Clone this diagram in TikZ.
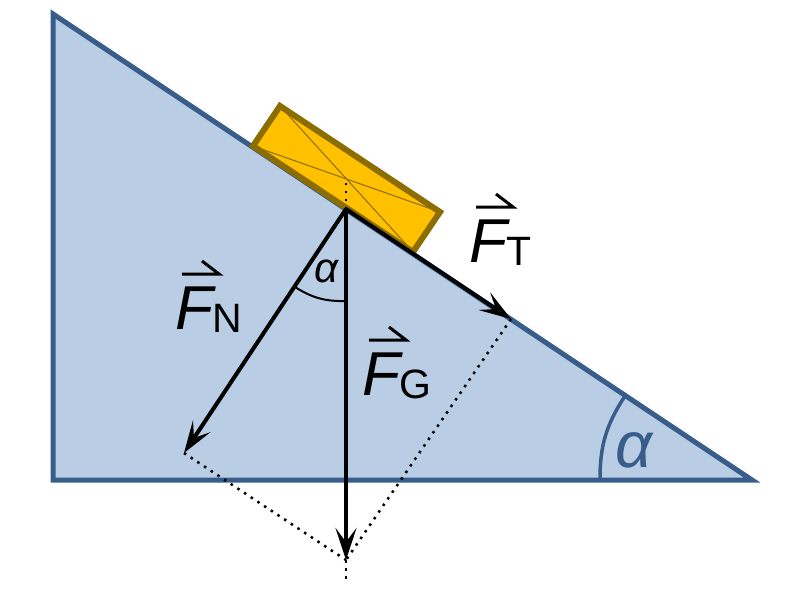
\documentclass[tikz,border=0pt]{standalone}
\usepackage{fontspec}
\setmainfont{Liberation Sans}
\usetikzlibrary{arrows.meta}
\definecolor{wedgefill}{HTML}{B9CDE5}
\definecolor{wedgeline}{HTML}{385D8A}
\definecolor{blockfill}{HTML}{FFC000}
\definecolor{blockline}{HTML}{8C6D00}
\newcommand{\forcetext}[1]{{\itshape F}{\hspace{-1pt}\fontsize{41}{41}\selectfont\raisebox{-3pt}{#1}}}
\tikzset{
    force/.style={line width=4pt, -{Stealth[length=32pt, width=21pt, inset=14pt]}},
    helper/.style={line width=2.5pt, dash pattern=on 2.5pt off 5.5pt},
    harpoon/.style={line width=3pt},
    forcelabel/.style={anchor=base west, inner sep=0pt, font=\fontsize{62}{62}\selectfont}
}
\begin{document}
\begin{tikzpicture}[x=1pt, y=-1pt]
    \useasboundingbox (0, 0) rectangle (800, 600);
    \coordinate (A) at (53, 14);
    \coordinate (B) at (53, 480);
    \coordinate (C) at (752, 480);
    \coordinate (P) at (346, 209);
    \coordinate (M) at (346, 179);
    \coordinate (T) at (511, 319);
    \coordinate (N) at (184, 453);
    \coordinate (G) at (346, 560);
    \coordinate (E) at (346, 582);
    \coordinate (K1) at (253, 146);
    \coordinate (K2) at (280, 106);
    \coordinate (K3) at (440, 212);
    \coordinate (K4) at (413, 252);
    \coordinate (R1) at (346, 301);
    \coordinate (R2) at (295, 287);
    \coordinate (S1) at (600, 480);
    \coordinate (S2) at (625, 396);
    % wedge
    \draw[line width=5pt, color=wedgeline, fill=wedgefill] (A) -- (B) -- (C) -- cycle;
    \draw[line width=3.5pt, color=wedgeline] (S1) to[bend left=16.8] (S2);
    % block
    \draw[line width=6pt, color=blockline, fill=blockfill] (K1) -- (K2) -- (K3) -- (K4) -- cycle;
    \draw[line width=1pt, color=blockline] (K1) -- (K3);
    \draw[line width=1pt, color=blockline] (K2) -- (K4);
    % helper lines
    \draw[helper] (P) -- (M);
    \draw[helper] (N) -- (G);
    \draw[helper] (T) -- (G);
    \draw[helper] (G) -- (E);
    % forces
    \draw[force] (P) -- (T);
    \draw[force] (P) -- (N);
    \draw[force] (P) -- (G);
    \draw[line width=2pt] (R1) to[bend left=16.8] (R2);
    % labels
    \node[forcelabel] (labelT) at (469, 262) {\forcetext{T}};
    \node[forcelabel] (labelN) at (175, 329) {\forcetext{N}};
    \node[forcelabel] (labelG) at (362, 395) {\forcetext{G}};
    \foreach \lbl in {labelT, labelN, labelG}
        \draw[harpoon] ([shift={(7,-55)}]\lbl.base west) -- ([shift={(44,-55)}]\lbl.base west) -- ([shift={(27,-68)}]\lbl.base west);
    \node[anchor=base west, inner sep=0pt, font=\fontsize{42}{42}\selectfont\itshape] (alphaP) at (314, 282) {α};
    \node[anchor=base west, inner sep=0pt, text=wedgeline, font=\fontsize{65}{65}\selectfont\itshape] (alphaC) at (615, 467) {α};
\end{tikzpicture}
\end{document}
